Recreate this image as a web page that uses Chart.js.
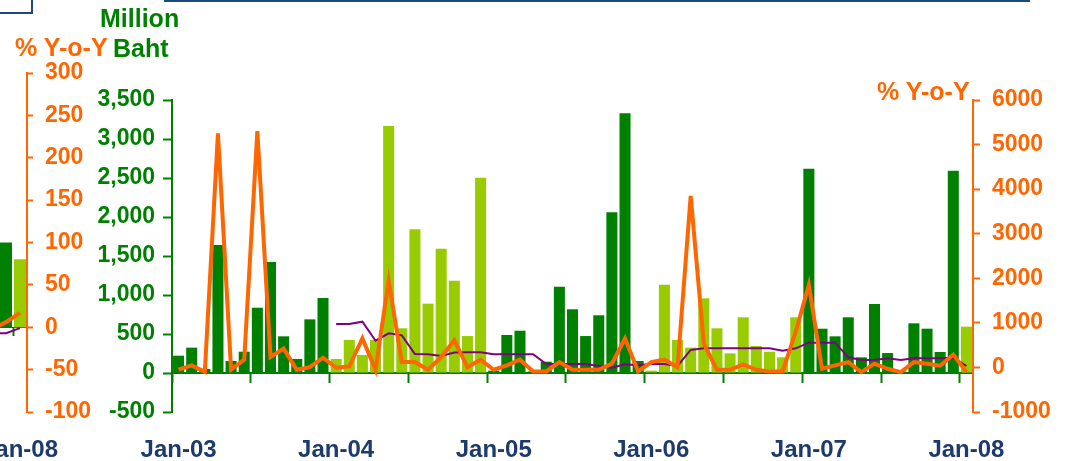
<!DOCTYPE html>
<html lang="en">

<head>
    <meta charset="UTF-8">
    <title>Million Baht / % Y-o-Y</title>
    <script src="https://cdn.jsdelivr.net/npm/chart.js"></script>
    <style>
        body { margin: 0; width: 1070px; height: 461px; overflow: hidden; background: #fff; position: relative; font-family: "Liberation Sans", Arial, sans-serif; }
        canvas { position: absolute; top: 0; }
        .titre { position: absolute; font-weight: bold; font-size: 25px; line-height: 25px; white-space: nowrap; }
        .vert { color: #008000; }
        .orange { color: #FF6600; }
        #boite { position: absolute; left: -4px; top: -4px; width: 33px; height: 14px; border: 2px solid #1F497D; }
        #trait { position: absolute; left: 164px; top: 0; width: 866px; height: 2px; background: #1F497D; }
    </style>
</head>

<body>
    <div id="boite"></div>
    <div id="trait"></div>
    <canvas id="gauche" width="136" height="461" style="left:-29px"></canvas>
    <canvas id="principal" width="1070" height="461" style="left:0"></canvas>
    <div class="titre orange" style="left:15px; top:35px">% Y-o-Y</div>
    <div class="titre vert" style="left:100px; top:6px">Million</div>
    <div class="titre vert" style="left:113px; top:36px">Baht</div>
    <div class="titre orange" style="left:877px; top:79px">% Y-o-Y</div>

    <script>
        // Couleurs
        const VERT = "#008000";
        const VERT_CLAIR = "#99CC00";
        const ORANGE = "#FF6600";
        const VIOLET = "#800080";
        const BLEU = "#1c3a6b";
        const POLICE = "'Liberation Sans', Arial, sans-serif";

        // Données du graphique principal
        const mois = [
            "Jan-03", "Feb-03", "Mar-03", "Apr-03", "May-03", "Jun-03", "Jul-03", "Aug-03", "Sep-03", "Oct-03", "Nov-03", "Dec-03",
            "Jan-04", "Feb-04", "Mar-04", "Apr-04", "May-04", "Jun-04", "Jul-04", "Aug-04", "Sep-04", "Oct-04", "Nov-04", "Dec-04",
            "Jan-05", "Feb-05", "Mar-05", "Apr-05", "May-05", "Jun-05", "Jul-05", "Aug-05", "Sep-05", "Oct-05", "Nov-05", "Dec-05",
            "Jan-06", "Feb-06", "Mar-06", "Apr-06", "May-06", "Jun-06", "Jul-06", "Aug-06", "Sep-06", "Oct-06", "Nov-06", "Dec-06",
            "Jan-07", "Feb-07", "Mar-07", "Apr-07", "May-07", "Jun-07", "Jul-07", "Aug-07", "Sep-07", "Oct-07", "Nov-07", "Dec-07",
            "Jan-08"
        ];
        const millionsBaht = [
            222, 325, 51, 1641, 154, 273, 837, 1423, 470, 180, 688, 962,
            180, 423, 231, 423, 3167, 573, 1842, 889, 1594, 1183, 474, 2504,
            30, 487, 542, 20, 145, 1107, 817, 474, 740, 2060, 3329, 154,
            30, 1132, 423, 325, 957, 573, 252, 714, 346, 273, 201, 714,
            2619, 568, 470, 714, 201, 885, 256, 20, 637, 568, 269, 2594,
            594
        ];
        const variationAnnuelle = [
            -50, 45, -100, 5250, -50, 175, 5300, 233, 422, -52, 7, 219,
            -7, 22, 649, -52, 1950, 120, 120, -52, 233, 610, 7, 174,
            -52, 45, 174, -90, -90, 120, -52, -52, -52, 84, 649, -90,
            120, 174, 7, 3850, 535, -52, -52, 68, -52, -90, -90, 800,
            1850, -30, 45, 120, -105, 84, -30, -105, 120, 84, 38, 287,
            -105
        ];
        const moyenne = [
            null, null, null, null, null, null, null, null, null, null, null, null,
            628, 628, 658, 414, 509, 483, 244, 240, 218, 263, 265, 265,
            240, 240, 240, 240, 115, 115, 115, 115, 90, 68, 111, 98,
            115, 115, 90, 295, 316, 316, 316, 316, 316, 316, 286, 316,
            389, 389, 389, 201, 167, 167, 188, 167, 188, 188, 188, 197,
            90
        ];
        const ticksBaht = [-500, 3500, 500];
        const ticksPct = [-1000, 6000, 1000];

        // Données du graphique de gauche (coupé)
        const moisGauche = ["Oct-07", "Nov-07", "Dec-07", "Jan-08"];
        const barresGauche = [null, null, 500, 401];
        const orangeGauche = [null, -2, 6, 17];
        const violetGauche = [null, -7, -7, -1];
        const ticksGauche = [-100, 300, 50];

        // Couleur des barres : années impaires en vert foncé, paires en vert clair
        function couleurBarre(label) {
            return parseInt(label.slice(-2)) % 2 === 1 ? VERT : VERT_CLAIR;
        }

        function police(taille) {
            return { family: POLICE, size: taille, weight: "bold" };
        }

        // pas de marge automatique pour les étiquettes de l'axe x
        function sansMarge(s) {
            s.paddingLeft = 0;
            s.paddingRight = 0;
        }

        // Graphique principal
        new Chart(document.getElementById("principal"), {
            type: "bar",
            data: {
                labels: mois,
                datasets: [{
                    type: "line",
                    data: variationAnnuelle,
                    yAxisID: "y2",
                    borderColor: ORANGE,
                    borderWidth: 4,
                    pointRadius: 0,
                    order: 1,
                }, {
                    type: "line",
                    data: moyenne,
                    yAxisID: "y",
                    borderColor: VIOLET,
                    borderWidth: 2,
                    pointRadius: 0,
                    order: 2,
                }, {
                    data: millionsBaht,
                    yAxisID: "y",
                    backgroundColor: mois.map(couleurBarre),
                    barPercentage: 0.84,
                    categoryPercentage: 1,
                    order: 3,
                }],
            },
            options: {
                responsive: false,
                animation: false,
                layout: { padding: { top: 100, left: 0, right: 0, bottom: 0 } },
                plugins: { legend: { display: false }, tooltip: { enabled: false } },
                scales: {
                    x: {
                        position: "bottom",
                        grid: { display: false },
                        border: { display: false },
                        ticks: {
                            autoSkip: false, maxRotation: 0, padding: 16,
                            color: BLEU, font: police(24),
                            callback: function (v, i) { return mois[i].startsWith("Jan") ? mois[i] : ""; },
                        },
                        afterFit: function (s) { s.height = 49; sansMarge(s); },
                    },
                    x2: {
                        type: "category",
                        position: { y: 0 },
                        offset: true,
                        ticks: { display: false },
                        border: { display: true, color: VERT, width: 2 },
                        grid: {
                            offset: true, drawOnChartArea: false, drawTicks: true, tickLength: 9, tickWidth: 2,
                            color: (c) => c.index % 6 === 0 ? VERT : "transparent",
                            tickColor: (c) => c.index % 6 === 0 ? VERT : "transparent",
                        },
                        afterFit: sansMarge,
                    },
                    y: {
                        position: "left",
                        min: ticksBaht[0], max: ticksBaht[1],
                        border: { display: true, color: VERT, width: 2 },
                        grid: { drawOnChartArea: false, drawTicks: true, tickLength: 9, tickWidth: 2, color: VERT },
                        ticks: {
                            stepSize: ticksBaht[2], color: VERT, font: police(23), padding: 8,
                            callback: (v) => v.toLocaleString("en-US"),
                        },
                        afterFit: function (s) { s.width = 172; },
                    },
                    y2: {
                        position: "right",
                        min: ticksPct[0], max: ticksPct[1],
                        border: { display: true, color: ORANGE, width: 2 },
                        grid: { drawOnChartArea: false, drawTicks: true, tickLength: 7, tickWidth: 2, color: ORANGE },
                        ticks: {
                            stepSize: ticksPct[2], color: ORANGE, font: police(23), padding: 12,
                            callback: (v) => String(v),
                        },
                        afterFit: function (s) { s.width = 97; },
                    },
                },
            },
        });

        // Graphique de gauche, coupé par le bord de l'image
        new Chart(document.getElementById("gauche"), {
            type: "bar",
            data: {
                labels: moisGauche,
                datasets: [{
                    type: "line",
                    data: orangeGauche,
                    yAxisID: "yr",
                    borderColor: ORANGE,
                    borderWidth: 4,
                    pointRadius: 0,
                    order: 1,
                }, {
                    type: "line",
                    data: violetGauche,
                    yAxisID: "yr",
                    borderColor: VIOLET,
                    borderWidth: 2,
                    pointRadius: 0,
                    order: 2,
                }, {
                    data: barresGauche,
                    yAxisID: "yb",
                    backgroundColor: moisGauche.map(couleurBarre),
                    barPercentage: 0.86,
                    categoryPercentage: 1,
                    order: 3,
                }],
            },
            options: {
                responsive: false,
                animation: false,
                layout: { autoPadding: false, padding: { top: 73, left: 0, right: 0, bottom: 0 } },
                plugins: { legend: { display: false }, tooltip: { enabled: false } },
                scales: {
                    x: {
                        position: "bottom",
                        grid: { display: false },
                        border: { display: false },
                        ticks: {
                            autoSkip: false, maxRotation: 0, padding: 16,
                            color: BLEU, font: police(24),
                            callback: function (v, i) { return moisGauche[i] === "Jan-08" ? moisGauche[i] : ""; },
                        },
                        afterFit: function (s) { s.height = 49; sansMarge(s); },
                    },
                    x2: {
                        type: "category",
                        position: { yr: 0 },
                        offset: true,
                        ticks: { display: false },
                        border: { display: true, color: VERT, width: 1 },
                        grid: {
                            offset: true, drawOnChartArea: false, drawTicks: true, tickLength: 8, tickWidth: 2,
                            color: (c) => moisGauche[c.index] === "Jan-08" ? VERT : "transparent",
                            tickColor: (c) => moisGauche[c.index] === "Jan-08" ? VERT : "transparent",
                        },
                        afterFit: sansMarge,
                    },
                    yb: { display: false, min: -500, max: 1500 },
                    yr: {
                        position: "right",
                        min: ticksGauche[0], max: ticksGauche[1],
                        border: { display: true, color: ORANGE, width: 2 },
                        grid: { drawOnChartArea: false, drawTicks: true, tickLength: 6, tickWidth: 2, color: ORANGE },
                        ticks: { stepSize: ticksGauche[2], color: ORANGE, font: police(23), padding: 12 },
                        afterFit: function (s) { s.width = 80; },
                    },
                },
            },
        });
    </script>
</body>

</html>
